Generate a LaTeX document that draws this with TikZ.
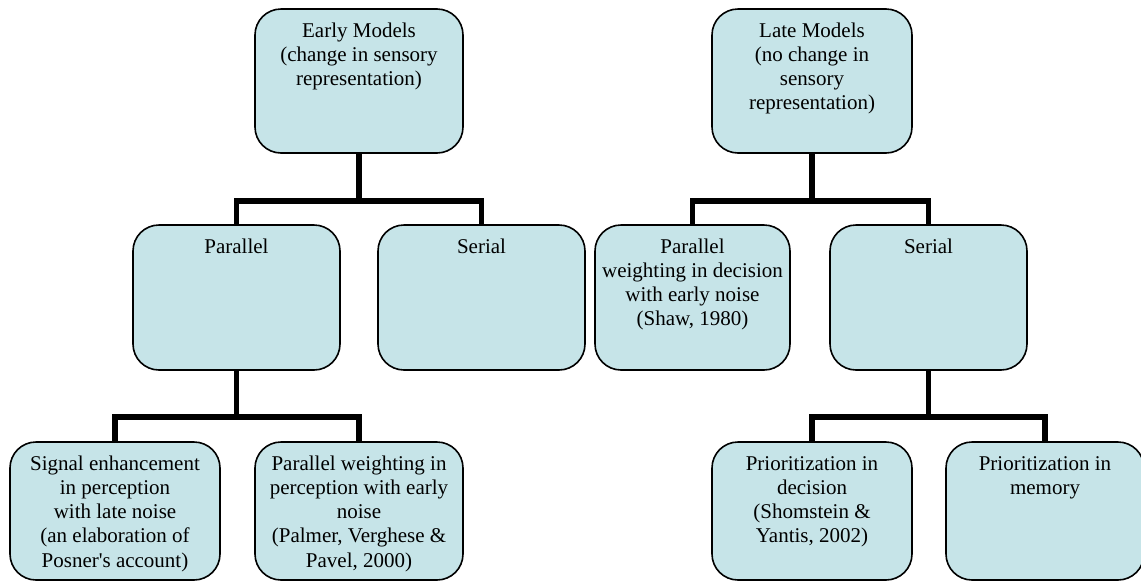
\documentclass[tikz,border=0pt]{standalone}
\usepackage{fontspec}
\setmainfont{Liberation Serif}
\newfontfamily\tnr{Liberation Serif}
\definecolor{boxfill}{RGB}{198,228,232}
\newcommand\bxt[3]{\parbox[t][#2pt][t]{#1pt}{\centering\tnr\fontsize{21}{24.3}\selectfont\rule{0pt}{28pt}#3}}
\tikzset{
  mbox/.style={draw=black, fill=boxfill, line width=1.6pt, rounded corners=26pt,
    inner sep=0pt, outer sep=0pt, rectangle, anchor=north west},
  conn/.style={draw=black, line width=5.7pt, line join=miter, line cap=butt}
}
\begin{document}
\begin{tikzpicture}[x=1pt,y=1pt]
\useasboundingbox (0,0) rectangle (1141,-582);
% top row
\node[mbox] (early) at (255,-9) {\bxt{208}{144}{Early Models\\(change in sensory\\representation)}};
\node[mbox] (late) at (712,-9) {\bxt{200}{144}{Late Models\\(no change in\\sensory\\representation)}};
% middle row
\node[mbox] (parl) at (133,-225) {\bxt{207}{145}{Parallel}};
\node[mbox] (serl) at (378,-225) {\bxt{207}{145}{Serial}};
\node[mbox] (parw) at (595,-225) {\bxt{195}{145}{Parallel\\weighting in decision\\with early noise\\(Shaw, 1980)}};
\node[mbox] (serr) at (830,-225) {\bxt{197}{145}{Serial}};
% bottom row
\node[mbox] (sig) at (10,-442) {\bxt{210}{138}{Signal enhancement\\in perception\\with late noise\\(an elaboration of\\Posner\textquotesingle s account)}};
\node[mbox] (ppe) at (255,-442) {\bxt{208}{138}{Parallel weighting in\\perception with early\\noise\\(Palmer, Verghese \&\\Pavel, 2000)}};
\node[mbox] (pdec) at (712,-442) {\bxt{200}{138}{Prioritization in\\decision\\(Shomstein \&\\Yantis, 2002)}};
\node[mbox] (pmem) at (946,-442) {\bxt{198}{138}{Prioritization in\\memory}};
% junctions
\coordinate (j1) at (early.south |- 0,-201);
\coordinate (j2) at (late.south |- 0,-201);
\coordinate (j3) at (parl.south |- 0,-417);
\coordinate (j4) at (serr.south |- 0,-417);
% connectors
\draw[conn] (early.south) -- (j1);
\draw[conn] (parl.north) |- (j1) -| (serl.north);
\draw[conn] (late.south) -- (j2);
\draw[conn] (parw.north) |- (j2) -| (serr.north);
\draw[conn] (parl.south) -- (j3);
\draw[conn] (sig.north) |- (j3) -| (ppe.north);
\draw[conn] (serr.south) -- (j4);
\draw[conn] (pdec.north) |- (j4) -| (pmem.north);
\end{tikzpicture}
\end{document}
